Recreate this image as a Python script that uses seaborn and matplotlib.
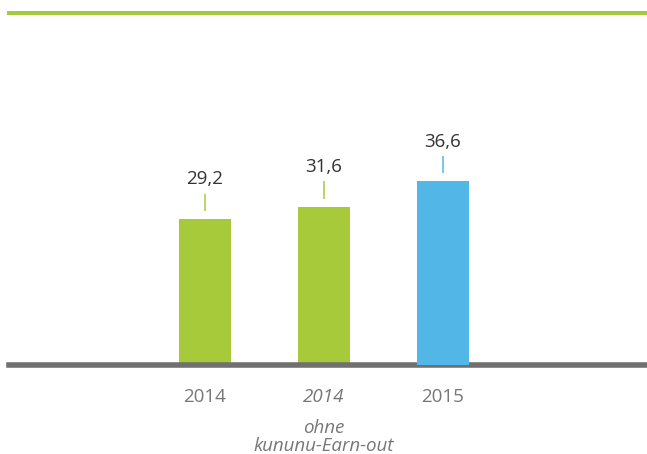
"""
Umsatz-Balken 2014 / 2014 ohne kununu / 2015 — Nachbau mit seaborn
"""
import matplotlib
matplotlib.use("Agg")
import matplotlib.pyplot as plt
import seaborn as sns

# Daten
bar_keys = ["2014", "2014_ohne", "2015"]
year_labels = ["2014", "2014", "2015"]
values = [29.2, 31.6, 36.6]
value_labels = ["29,2", "31,6", "36,6"]
note_text = "ohne\nkununu-Earn-out"

GREEN = "#A6CA39"
BLUE = "#52B6E6"
bar_colors = [GREEN, GREEN, BLUE]

sns.set_theme(style="white")
plt.rcParams["font.family"] = ["Open Sans", "DejaVu Sans"]

fig = plt.figure(figsize=(6.47, 4.54), dpi=100)
ax = fig.add_axes([9 / 647, 0.195, 638 / 647, 0.7764])

sns.barplot(
    x=bar_keys, y=values, hue=bar_keys, palette=bar_colors,
    width=0.437, saturation=1, legend=False, linewidth=0, ax=ax,
)
ax.patches[2].set_zorder(3)  # blauer Balken liegt über der Grundlinie

ax.set_xlim(-1.647, 3.714)
ax.set_ylim(0, 70.1)

# Spines: oben grün, unten grau
for side in ["left", "right"]:
    ax.spines[side].set_visible(False)
ax.spines["top"].set_color(GREEN)
ax.spines["top"].set_linewidth(2.9)
ax.spines["bottom"].set_color("#707070")
ax.spines["bottom"].set_linewidth(4.0)

ax.set_yticks([])
ax.set_xticks(range(len(year_labels)))
ax.set_xticklabels(year_labels, fontsize=13.5, color="#777777")
ax.tick_params(axis="x", length=0, pad=16)
ax.get_xticklabels()[1].set_style("italic")
ax.set_xlabel("")
ax.set_ylabel("")

# Wertebeschriftung mit kleinem Strich
for i, (v, lab, c) in enumerate(zip(values, value_labels, bar_colors)):
    ax.vlines(i, v + 1.6, v + 5.0, color=c, lw=1.1, zorder=3)
    ax.text(i, v + 6.8, lab, ha="center", va="baseline",
            fontsize=13.5, color="#333333")

ax.annotate(
    note_text, xy=(1, 0), xycoords=("data", "axes fraction"),
    xytext=(0, -38.5), textcoords="offset points",
    ha="center", va="top", fontsize=13.5, style="italic",
    color="#777777", linespacing=1.0,
)

fig.savefig("out.png", dpi=100)
